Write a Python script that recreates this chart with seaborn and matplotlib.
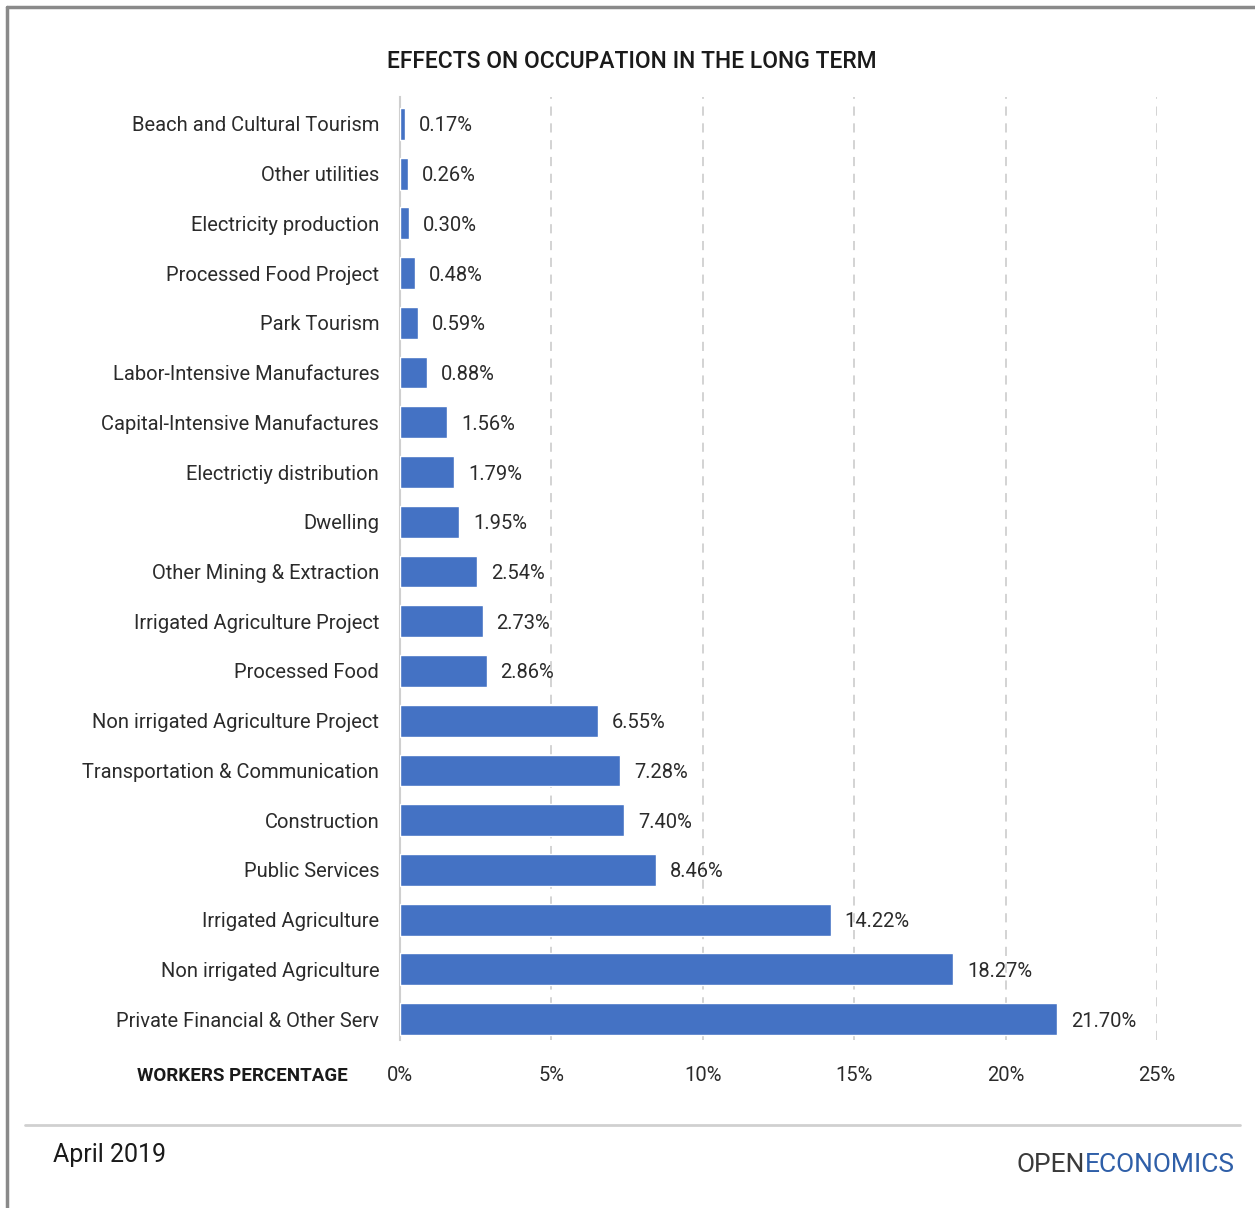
import matplotlib
matplotlib.use("Agg")
import matplotlib.pyplot as plt
import seaborn as sns
import pandas as pd
from matplotlib.lines import Line2D

sectors = [
    "Beach and Cultural Tourism", "Other utilities", "Electricity production",
    "Processed Food Project", "Park Tourism", "Labor-Intensive Manufactures",
    "Capital-Intensive Manufactures", "Electrictiy distribution", "Dwelling",
    "Other Mining & Extraction", "Irrigated Agriculture Project", "Processed Food",
    "Non irrigated Agriculture Project", "Transportation & Communication",
    "Construction", "Public Services", "Irrigated Agriculture",
    "Non irrigated Agriculture", "Private Financial & Other Serv",
]
workers_pct = [0.17, 0.26, 0.30, 0.48, 0.59, 0.88, 1.56, 1.79, 1.95, 2.54,
               2.73, 2.86, 6.55, 7.28, 7.40, 8.46, 14.22, 18.27, 21.70]
x_ticks = [0, 5, 10, 15, 20, 25]

sns.set_theme(style="white")
plt.rcParams["font.family"] = ["Roboto", "DejaVu Sans"]

BLUE = "#4472C4"
TEXT = "#2b2b2b"

df = pd.DataFrame({"sector": sectors, "pct": workers_pct})

fig = plt.figure(figsize=(12.55, 12.08), dpi=100)
ax = fig.add_axes([400 / 1255, 1 - 1040 / 1208, (1157 - 400) / 1255, (1040 - 97) / 1208])

sns.barplot(data=df, x="pct", y="sector", orient="h", color=BLUE,
            saturation=1, width=0.64, ax=ax, zorder=3)

ax.set_xlim(0, 25)
ax.set_ylim(18.42, -0.54)
ax.set_xticks(x_ticks)
ax.set_xticklabels([f"{t}%" for t in x_ticks], fontsize=14.5, color=TEXT)
ax.tick_params(axis="x", length=0, pad=19)
ax.tick_params(axis="y", length=0, pad=15, labelsize=14.5, labelcolor=TEXT)
ax.set_xlabel("")
ax.set_ylabel("")

for t in x_ticks[1:]:
    ax.axvline(t, color="#c8c8c8", lw=1.1, ls=(0, (6, 5)), zorder=1)

for s in ["top", "right", "bottom"]:
    ax.spines[s].set_visible(False)
ax.spines["left"].set_color("#cfcfcf")
ax.spines["left"].set_linewidth(1.5)

for container in ax.containers:
    labels = ax.bar_label(container, labels=[f"{v:.2f}%" for v in workers_pct],
                          padding=10, fontsize=14.5, color=TEXT)
    for lab in labels:
        lab.set_va("center_baseline")

fig.text(632 / 1255, 1 - 62 / 1208, "EFFECTS ON OCCUPATION IN THE LONG TERM",
         ha="center", va="center", fontsize=16.5, color="#1a1a1a", fontweight="medium")
fig.text(348 / 1255, 1 - 1076 / 1208, "WORKERS PERCENTAGE", ha="right", va="center",
         fontsize=13.5, color="#1a1a1a", fontweight="bold")

# page frame and footer
fig.add_artist(Line2D([7 / 1255, 7 / 1255], [0, 1 - 7 / 1208], transform=fig.transFigure,
                      color="#8a8a8a", lw=2.5))
fig.add_artist(Line2D([7 / 1255, 1], [1 - 7 / 1208, 1 - 7 / 1208], transform=fig.transFigure,
                      color="#8a8a8a", lw=2.5))
fig.add_artist(Line2D([25 / 1255, 1240 / 1255], [1 - 1125 / 1208, 1 - 1125 / 1208],
                      transform=fig.transFigure, color="#d0d0d0", lw=2))

fig.text(53 / 1255, 1 - 1155 / 1208, "April 2019", ha="left", va="center",
         fontsize=18, color="#1a1a1a")
t_econ = fig.text(1235 / 1255, 1 - 1165 / 1208, "ECONOMICS", ha="right", va="center",
                  fontsize=19, color="#2f5fa8")
fig.canvas.draw()
bb = t_econ.get_window_extent()
fig.text(bb.x0 / fig.bbox.width, 1 - 1165 / 1208, "OPEN", ha="right", va="center",
         fontsize=19, color="#3a3a3a")

fig.savefig("out.png", dpi=100, facecolor="white")
